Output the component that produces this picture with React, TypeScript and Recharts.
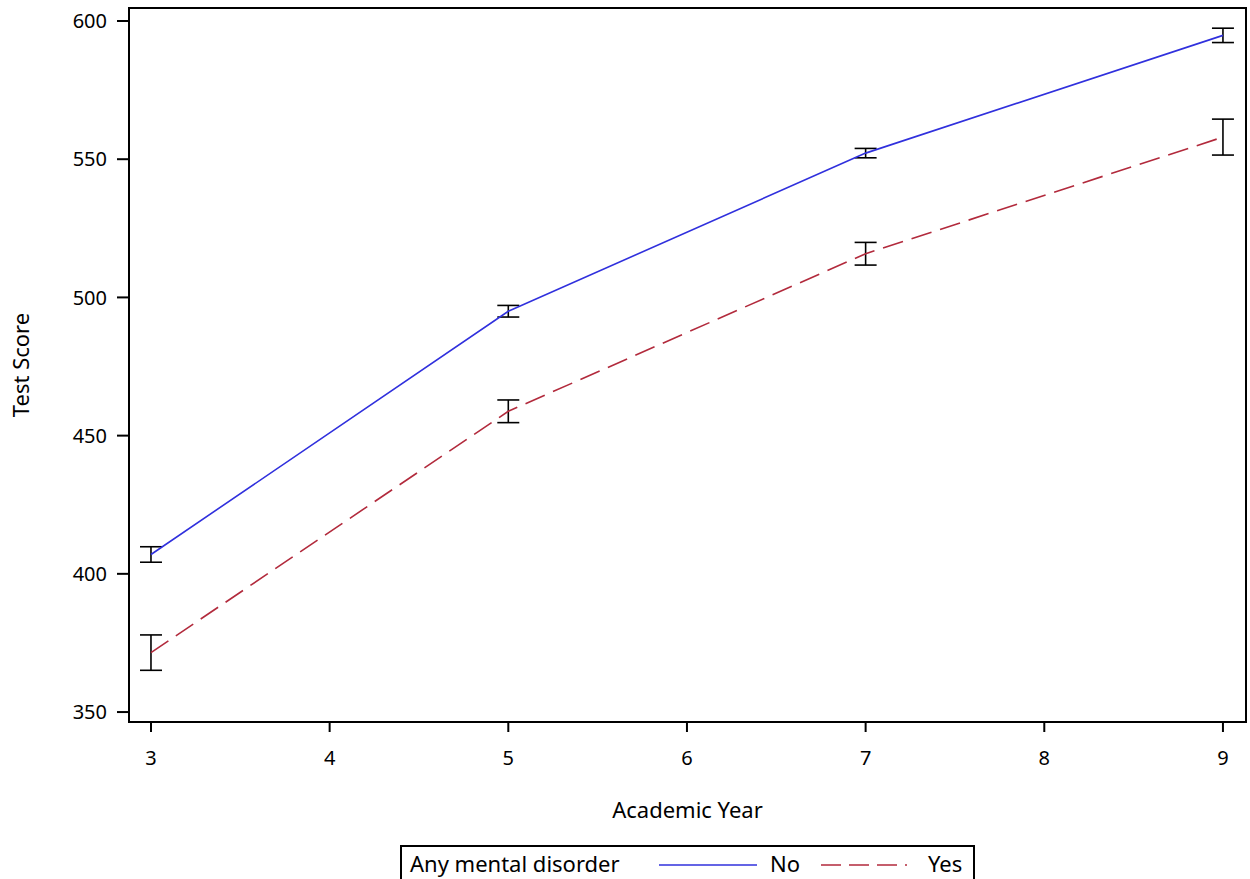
import React from "react";
import { LineChart, Line, XAxis, YAxis, ErrorBar, ReferenceArea } from "recharts";

const years = [3, 5, 7, 9];
const noMeans = [407, 495, 552.2, 594.8];
const noErr = [2.8, 2.1, 1.7, 2.6];
const yesMeans = [371.5, 458.8, 515.8, 558];
const yesErr = [6.4, 4.1, 4.1, 6.5];
const xTicks = [3, 4, 5, 6, 7, 8, 9];
const yTicks = [350, 400, 450, 500, 550, 600];
const legendTitle = "Any mental disorder";
const seriesNames = ["No", "Yes"];

const data = years.map((y, i) => ({
  year: y,
  no: noMeans[i],
  noErr: noErr[i],
  yes: yesMeans[i],
  yesErr: yesErr[i],
}));

const FONT = "'Noto Sans', sans-serif";
const BLUE = "#3030dd";
const RED = "#b22a3c";
const X_DOMAIN: [number, number] = [2.877, 9.129];
const Y_DOMAIN: [number, number] = [346.4, 604.7];

export default function App() {
  return (
    <div style={{ position: "relative", width: 1250, height: 879, fontFamily: FONT }}>
      <style>{"body{margin:0;overflow:hidden}"}</style>
      <LineChart
        width={1250}
        height={879}
        data={data}
        margin={{ top: 8, right: 4, bottom: 0, left: 0 }}
      >
        <XAxis
          dataKey="year"
          type="number"
          domain={X_DOMAIN}
          ticks={xTicks}
          allowDataOverflow
          height={157}
          tickSize={10}
          tickMargin={19}
          stroke="#000"
          strokeWidth={2}
          tick={{ fill: "#000", fontSize: 20, fontFamily: FONT }}
          label={{ value: "Academic Year", position: "insideTop", dy: 75, fill: "#000", fontSize: 22, fontFamily: FONT }}
        />
        <YAxis
          type="number"
          domain={Y_DOMAIN}
          ticks={yTicks}
          allowDataOverflow
          width={129}
          tickSize={12}
          tickMargin={10}
          stroke="#000"
          strokeWidth={2}
          tick={{ fill: "#000", fontSize: 20, fontFamily: FONT }}
          label={{ value: "Test Score", angle: -90, position: "insideLeft", dx: 16, fill: "#000", fontSize: 22, fontFamily: FONT, style: { textAnchor: "middle" } }}
        />
        <ReferenceArea
          x1={X_DOMAIN[0]}
          x2={X_DOMAIN[1]}
          y1={Y_DOMAIN[0]}
          y2={Y_DOMAIN[1]}
          fill="none"
          stroke="#000"
          strokeWidth={2}
          ifOverflow="visible"
        />
        <Line
          dataKey="no"
          stroke={BLUE}
          strokeWidth={1.6}
          dot={false}
          isAnimationActive={false}
        >
          <ErrorBar dataKey="noErr" direction="y" width={11} stroke="#000" strokeWidth={1.6} />
        </Line>
        <Line
          dataKey="yes"
          stroke={RED}
          strokeWidth={1.6}
          strokeDasharray="21 9"
          dot={false}
          isAnimationActive={false}
        >
          <ErrorBar dataKey="yesErr" direction="y" width={11} stroke="#000" strokeWidth={1.6} />
        </Line>
      </LineChart>
      <div
        style={{
          position: "absolute",
          left: 400,
          top: 845,
          width: 575,
          height: 50,
          border: "2px solid #000",
          boxSizing: "border-box",
          fontSize: 22,
          color: "#000",
        }}
      >
        <span style={{ position: "absolute", left: 8, top: 1 }}>{legendTitle}</span>
        <svg style={{ position: "absolute", left: 256, top: 16 }} width={100} height={4}>
          <line x1={1} y1={2} x2={99} y2={2} stroke={BLUE} strokeWidth={1.6} />
        </svg>
        <span style={{ position: "absolute", left: 368, top: 1 }}>{seriesNames[0]}</span>
        <svg style={{ position: "absolute", left: 418, top: 16 }} width={90} height={4}>
          <line x1={1} y1={2} x2={89} y2={2} stroke={RED} strokeWidth={1.6} strokeDasharray="20 8 20 8 20 8 2 8" />
        </svg>
        <span style={{ position: "absolute", left: 526, top: 1 }}>{seriesNames[1]}</span>
      </div>
    </div>
  );
}
